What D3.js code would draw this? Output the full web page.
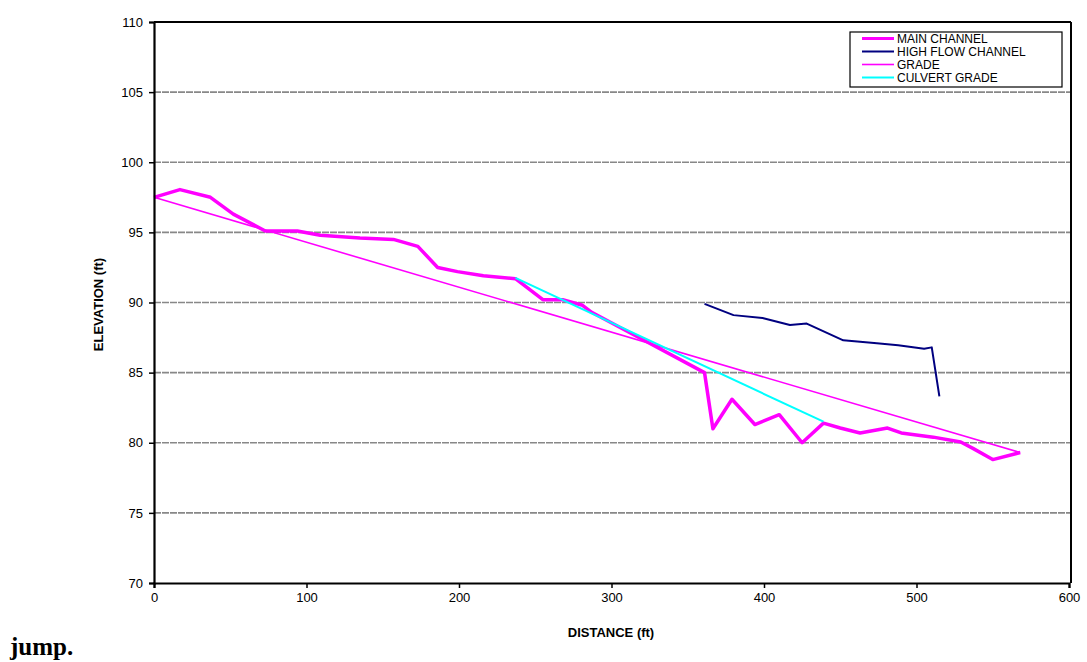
<!DOCTYPE html>
<html>
<head>
<meta charset="utf-8">
<script src="https://cdn.jsdelivr.net/npm/d3@7"></script>
<style>
  body { margin: 0; background: #fff; }
  svg { display: block; font-family: Arial, "Liberation Sans", sans-serif; }
</style>
</head>
<body>
<script>
// distance (ft) / elevation (ft)
const main_dist = [0, 17, 37, 52, 73, 94, 109, 135, 157, 173, 186, 199, 216, 237, 255, 268, 281, 287, 306, 361, 366.5, 379, 394, 410, 425, 439, 450, 463, 481, 490, 511, 529, 537, 550, 568];
const main_elev = [97.5, 98.05, 97.5, 96.3, 95.1, 95.1, 94.8, 94.6, 94.5, 94.0, 92.5, 92.2, 91.9, 91.7, 90.2, 90.2, 89.8, 89.3, 88.2, 85.0, 81.0, 83.1, 81.3, 82.0, 80.0, 81.4, 81.05, 80.7, 81.05, 80.7, 80.4, 80.05, 79.6, 78.8, 79.3];

const high_dist = [361, 380, 399, 417, 428, 452, 474, 488, 505, 510, 515];
const high_elev = [89.9, 89.1, 88.9, 88.4, 88.5, 87.3, 87.1, 86.95, 86.7, 86.8, 83.3];

const grade_dist = [0, 568];
const grade_elev = [97.5, 79.3];

const culvert_dist = [237, 439];
const culvert_elev = [91.75, 81.5];

const x_ticks = [0, 100, 200, 300, 400, 500, 600];
const y_ticks = [70, 75, 80, 85, 90, 95, 100, 105, 110];

const legend_names = ['MAIN CHANNEL', 'HIGH FLOW CHANNEL', 'GRADE', 'CULVERT GRADE'];

const series = [
    { name: legend_names[0], dist: main_dist, elev: main_elev, color: '#ff00ff', width: 3.5 },
    { name: legend_names[1], dist: high_dist, elev: high_elev, color: '#000080', width: 2 },
    { name: legend_names[2], dist: grade_dist, elev: grade_elev, color: '#ff00ff', width: 1.6 },
    { name: legend_names[3], dist: culvert_dist, elev: culvert_elev, color: '#00ffff', width: 2 }
];

const width = 1087, height = 662;
const plot = { left: 154, right: 1069, top: 22, bottom: 583 };

const svg = d3.select('body').append('svg')
    .attr('width', width)
    .attr('height', height);

const x = d3.scaleLinear().domain([0, 600]).range([plot.left, plot.right]);
const y = d3.scaleLinear().domain([70, 110]).range([plot.bottom, plot.top]);

// gridlines
svg.append('g')
    .selectAll('line')
    .data(y_ticks.filter(d => d > 70 && d < 110))
    .enter()
    .append('line')
        .attr('x1', plot.left)
        .attr('x2', plot.right + 2)
        .attr('y1', d => y(d))
        .attr('y2', d => y(d))
        .attr('stroke', '#888')
        .attr('stroke-width', 1.6)
        .attr('stroke-dasharray', '7,1');

// frame top / right
svg.append('line')
    .attr('x1', plot.left).attr('x2', plot.right + 2)
    .attr('y1', plot.top).attr('y2', plot.top)
    .attr('stroke', '#000').attr('stroke-width', 2);
svg.append('line')
    .attr('x1', plot.right + 2).attr('x2', plot.right + 2)
    .attr('y1', plot.top).attr('y2', plot.bottom)
    .attr('stroke', '#000').attr('stroke-width', 2);

// series
const line = d3.line()
    .x(d => x(d[0]))
    .y(d => y(d[1]));

svg.append('g')
    .selectAll('path')
    .data(series)
    .enter()
    .append('path')
        .attr('d', d => line(d.dist.map((v, i) => [v, d.elev[i]])))
        .attr('fill', 'none')
        .attr('stroke', d => d.color)
        .attr('stroke-width', d => d.width)
        .attr('stroke-linejoin', 'round');

// axes
const x_axis = svg.append('g')
    .attr('transform', `translate(0,${plot.bottom})`)
    .call(d3.axisBottom(x).tickValues(x_ticks).tickSize(5).tickPadding(5));
const y_axis = svg.append('g')
    .attr('transform', `translate(${plot.left},0)`)
    .call(d3.axisLeft(y).tickValues(y_ticks).tickSize(5).tickPadding(6));

[x_axis, y_axis].forEach(ax => {
    ax.select('.domain').attr('stroke', '#000').attr('stroke-width', 2.2);
    ax.selectAll('.tick line').attr('stroke', '#000').attr('stroke-width', 1.5);
    ax.selectAll('.tick text')
        .attr('fill', '#000')
        .style('font-size', '13px')
        .style('font-family', 'Arial, "Liberation Sans", sans-serif');
});

// axis titles
svg.append('text')
    .attr('x', 611)
    .attr('y', 637)
    .attr('text-anchor', 'middle')
    .style('font-size', '13px')
    .style('font-weight', 'bold')
    .text('DISTANCE (ft)');

svg.append('text')
    .attr('transform', `translate(103,${(plot.top + plot.bottom) / 2 + 2}) rotate(-90)`)
    .attr('text-anchor', 'middle')
    .style('font-size', '13px')
    .style('font-weight', 'bold')
    .text('ELEVATION (ft)');

// legend
const legend = svg.append('g').attr('transform', 'translate(850,32)');
legend.append('rect')
    .attr('width', 212)
    .attr('height', 55)
    .attr('fill', '#fff')
    .attr('stroke', '#000')
    .attr('stroke-width', 1.2);

const item = legend.selectAll('.item')
    .data(series)
    .enter()
    .append('g')
        .attr('class', 'item')
        .attr('transform', (d, i) => `translate(0,${6.5 + i * 13})`);

item.append('line')
    .attr('x1', 12).attr('x2', 44)
    .attr('y1', 0).attr('y2', 0)
    .attr('stroke', d => d.color)
    .attr('stroke-width', d => Math.min(d.width, 3));

item.append('text')
    .attr('x', 47)
    .attr('y', 4.5)
    .style('font-size', '12px')
    .text(d => d.name);

// page text below the figure
svg.append('text')
    .attr('x', 10)
    .attr('y', 655)
    .style('font-family', '"Liberation Serif", "Times New Roman", serif')
    .style('font-size', '25px')
    .style('font-weight', 'bold')
    .text('jump.');
</script>
</body>
</html>
